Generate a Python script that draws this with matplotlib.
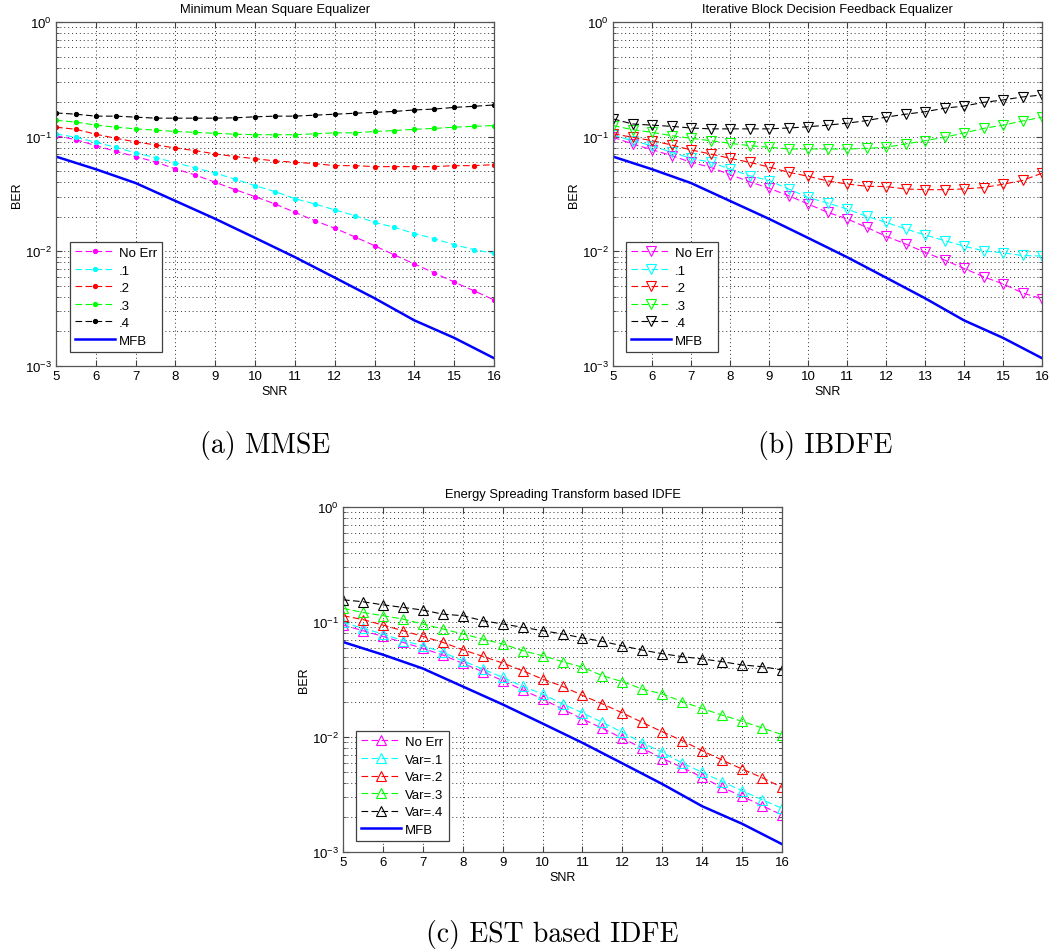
import matplotlib
matplotlib.use("Agg")
import matplotlib.pyplot as plt

plt.rcParams['font.family'] = ['Liberation Sans', 'DejaVu Sans']
plt.rcParams['mathtext.fontset'] = 'custom'
plt.rcParams['mathtext.rm'] = 'Liberation Sans'

snr = [5, 5.5, 6, 6.5, 7, 7.5, 8, 8.5, 9, 9.5, 10, 10.5, 11, 11.5, 12, 12.5,
       13, 13.5, 14, 14.5, 15, 15.5, 16]
snr_mfb = [5, 6, 7, 8, 9, 10, 11, 12, 13, 14, 15, 16]
mfb = [0.067, 0.052, 0.0394, 0.0275, 0.0192, 0.0131, 0.0089, 0.0059,
       0.0039, 0.0025, 0.00176, 0.00117]

# (a) MMSE
mmse_noerr = [0.102, 0.0942, 0.0835, 0.0745, 0.0670, 0.0602, 0.0523, 0.0463,
              0.0400, 0.0345, 0.0300, 0.0259, 0.0219, 0.0185, 0.0159, 0.0134,
              0.0112, 0.0093, 0.00777, 0.00648, 0.0054, 0.00452, 0.00377]
mmse_v1 = [0.1056, 0.0988, 0.0893, 0.0808, 0.0721, 0.0656, 0.0593, 0.0533,
           0.0482, 0.0425, 0.0374, 0.0332, 0.0288, 0.0259, 0.0230, 0.0205,
           0.0179, 0.0162, 0.0143, 0.0129, 0.0114, 0.01035, 0.0096]
mmse_v2 = [0.121, 0.116, 0.105, 0.0968, 0.0900, 0.0847, 0.0797, 0.0755,
           0.0707, 0.0670, 0.0643, 0.0614, 0.0598, 0.0582, 0.0559, 0.0559,
           0.0548, 0.0548, 0.0548, 0.0548, 0.0559, 0.0559, 0.0570]
mmse_v3 = [0.139, 0.134, 0.126, 0.121, 0.117, 0.114, 0.111, 0.109, 0.107,
           0.105, 0.104, 0.104, 0.104, 0.106, 0.108, 0.108, 0.111, 0.113,
           0.116, 0.118, 0.121, 0.123, 0.125]
mmse_v4 = [0.161, 0.157, 0.151, 0.151, 0.148, 0.145, 0.145, 0.145, 0.145,
           0.146, 0.149, 0.151, 0.151, 0.154, 0.157, 0.160, 0.163, 0.166,
           0.171, 0.174, 0.180, 0.184, 0.189]

# (b) IBDFE
ibdfe_noerr = [0.0988, 0.0864, 0.077, 0.0684, 0.0598, 0.054, 0.0467, 0.0405,
               0.0355, 0.0306, 0.0259, 0.0219, 0.0192, 0.0162, 0.01355, 0.0116,
               0.0098, 0.0084, 0.0071, 0.0060, 0.0052, 0.00434, 0.00385]
ibdfe_v1 = [0.103, 0.092, 0.0835, 0.073, 0.0648, 0.0598, 0.0523, 0.0457,
            0.0414, 0.035, 0.0295, 0.0264, 0.0234, 0.0202, 0.0179, 0.0157,
            0.0139, 0.0124, 0.0111, 0.0101, 0.0097, 0.0092, 0.0091]
ibdfe_v2 = [0.106, 0.0988, 0.0923, 0.0847, 0.0766, 0.0707, 0.0648, 0.0598,
            0.0544, 0.0489, 0.0452, 0.0411, 0.0387, 0.0369, 0.0367, 0.0350,
            0.0345, 0.0345, 0.0350, 0.0360, 0.0385, 0.0415, 0.048]
ibdfe_v3 = [0.125, 0.115, 0.109, 0.102, 0.0968, 0.0923, 0.0875, 0.0835,
            0.0808, 0.0781, 0.0781, 0.078, 0.078, 0.079, 0.0808, 0.0863,
            0.0923, 0.0988, 0.1077, 0.118, 0.126, 0.137, 0.148]
ibdfe_v4 = [0.143, 0.129, 0.126, 0.123, 0.119, 0.117, 0.117, 0.117, 0.117,
            0.119, 0.122, 0.126, 0.131, 0.138, 0.148, 0.157, 0.165, 0.177,
            0.185, 0.199, 0.209, 0.222, 0.231]

# (c) EST based IDFE
est_noerr = [0.094, 0.084, 0.075, 0.0665, 0.059, 0.0516, 0.0437, 0.037,
             0.0309, 0.0257, 0.0214, 0.0175, 0.01435, 0.0119, 0.00975, 0.0080,
             0.0065, 0.00545, 0.00446, 0.00365, 0.00305, 0.00253, 0.0021]
est_v1 = [0.0994, 0.088, 0.0787, 0.0688, 0.0622, 0.0545, 0.046, 0.039,
          0.033, 0.0276, 0.0237, 0.0194, 0.0162, 0.0134, 0.0110, 0.0089,
          0.00736, 0.00594, 0.00493, 0.00409, 0.00341, 0.00285, 0.0024]
est_v2 = [0.1135, 0.105, 0.094, 0.084, 0.075, 0.0665, 0.0574, 0.0503,
          0.044, 0.0377, 0.0319, 0.0276, 0.0230, 0.0194, 0.0162, 0.0134,
          0.0111, 0.0093, 0.0076, 0.0063, 0.00527, 0.00443, 0.00365]
est_v3 = [0.1315, 0.121, 0.1135, 0.106, 0.096, 0.087, 0.0787, 0.0711,
          0.0644, 0.0563, 0.0509, 0.0452, 0.0404, 0.0341, 0.0303, 0.0261,
          0.0237, 0.0203, 0.0177, 0.0155, 0.0137, 0.0120, 0.0105]
est_v4 = [0.156, 0.150, 0.141, 0.134, 0.127, 0.117, 0.1135, 0.1027, 0.0961,
          0.090, 0.084, 0.0787, 0.0727, 0.0679, 0.062, 0.057, 0.053, 0.050,
          0.0477, 0.0452, 0.0423, 0.0409, 0.0383]

colors = ['#ff00ff', '#00ffff', '#ff0000', '#00ff00', '#000000']
labels_ab = ['No Err', '.1', '.2', '.3', '.4']
labels_c = ['No Err', 'Var=.1', 'Var=.2', 'Var=.3', 'Var=.4']

panels = [
    dict(rect=[56, 23, 494, 367], title='Minimum Mean Square Equalizer',
         series=[mmse_noerr, mmse_v1, mmse_v2, mmse_v3, mmse_v4],
         labels=labels_ab, marker='o', ms=3, filled=True,
         caption='(a) MMSE', cap_xy=(265, 445), leg=(0.032, 0.041)),
    dict(rect=[613, 23, 1042, 367], title='Iterative Block Decision Feedback Equalizer',
         series=[ibdfe_noerr, ibdfe_v1, ibdfe_v2, ibdfe_v3, ibdfe_v4],
         labels=labels_ab, marker='v', ms=7, filled=False,
         caption='(b) IBDFE', cap_xy=(825, 445), leg=(0.030, 0.041)),
    dict(rect=[343, 508, 782, 853], title='Energy Spreading Transform based IDFE',
         series=[est_noerr, est_v1, est_v2, est_v3, est_v4],
         labels=labels_c, marker='^', ms=7, filled=False,
         caption='(c) EST based IDFE', cap_xy=(552, 935), leg=(0.030, 0.032)),
]

W, H = 1064, 953
fig = plt.figure(figsize=(W / 100, H / 100), dpi=100)

grid_kw = dict(ls=(0, (1, 3)), color='#333333', lw=0.7)

for p in panels:
    x0, y0, x1, y1 = p['rect']
    ax = fig.add_axes([x0 / W, 1 - y1 / H, (x1 - x0) / W, (y1 - y0) / H])
    for vals, c, lab in zip(p['series'], colors, p['labels']):
        ax.plot(snr, vals, color=c, ls=(0, (6, 3)), lw=0.8, marker=p['marker'],
                ms=p['ms'], mfc=c if p['filled'] else 'none', mec=c, mew=0.8,
                label=lab)
    ax.plot(snr_mfb, mfb, color='#0000ff', lw=1.8, label='MFB')
    ax.set_yscale('log')
    ax.set_xlim(5, 16)
    ax.set_ylim(1e-3, 1)
    ax.set_xticks(range(5, 17))
    ax.grid(True, which='major', **grid_kw)
    ax.grid(True, which='minor', axis='y', **grid_kw)
    ax.tick_params(which='both', direction='in', top=True, right=True,
                   labelsize=9.5, color='#404040', pad=3)
    ax.tick_params(which='major', length=4)
    ax.tick_params(which='minor', length=2.5)
    for s in ax.spines.values():
        s.set_color('#555555')
        s.set_linewidth(0.9)
    ax.set_title(p['title'], fontsize=9.3, pad=7)
    ax.set_xlabel('SNR', fontsize=9, labelpad=2)
    ax.set_ylabel('BER', fontsize=9, labelpad=1)
    leg = ax.legend(loc='lower left', bbox_to_anchor=p['leg'], fontsize=9.5,
                    handlelength=3, numpoints=1, fancybox=False,
                    edgecolor='#404040', framealpha=1, borderpad=0.4,
                    labelspacing=0.4, handletextpad=0.3, borderaxespad=0)
    leg.get_frame().set_linewidth(0.9)
    fig.text(p['cap_xy'][0] / W, 1 - p['cap_xy'][1] / H, p['caption'],
             family='cmr10', fontsize=20, ha='center', va='center')

fig.savefig('out.png', dpi=100)
